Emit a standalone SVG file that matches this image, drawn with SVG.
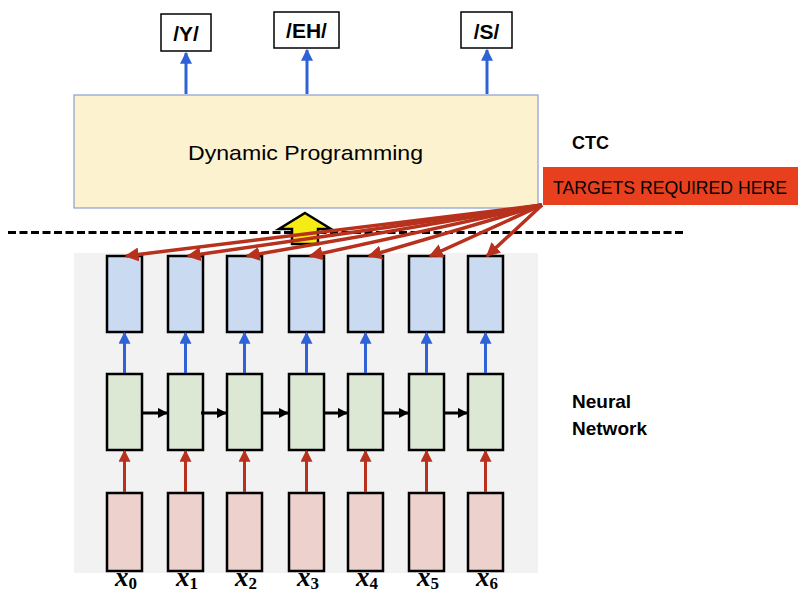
<svg xmlns="http://www.w3.org/2000/svg" width="798" height="595" viewBox="0 0 798 595">
  <style>
    .lbl { font-family: "Liberation Sans", "Open Sans", sans-serif; fill: #000; }
    .bold { font-weight: bold; }
    .out rect { fill: #fff; stroke: #000; stroke-width: 1.5; }
    .cell { stroke: #000; stroke-width: 2.5; }
    .blue { fill: #c9daf1; }
    .green { fill: #dde8d4; }
    .pink { fill: #edd1cd; }
    .up-blue { stroke: #2f62d6; stroke-width: 3; fill: none; }
    .up-red { stroke: #b7311c; stroke-width: 3; fill: none; }
    .rec { stroke: #000; stroke-width: 3; fill: none; }
    .tgt { stroke: #b7311c; stroke-width: 3.5; fill: none; }
    .xs { font-family: "Liberation Serif", "DejaVu Serif", serif; font-style: italic; font-weight: bold; font-size: 27px; }
    .xs tspan { font-style: normal; font-size: 17px; }
  </style>
  <defs>
    <marker id="hb" viewBox="0 0 10 10" refX="9" refY="5" markerWidth="4" markerHeight="4" orient="auto" markerUnits="strokeWidth">
      <path d="M0,0 L10,5 L0,10 z" fill="#2f62d6"/>
    </marker>
    <marker id="hr" viewBox="0 0 10 10" refX="9" refY="5" markerWidth="4" markerHeight="4" orient="auto" markerUnits="strokeWidth">
      <path d="M0,0 L10,5 L0,10 z" fill="#b7311c"/>
    </marker>
    <marker id="hk" viewBox="0 0 10 10" refX="9" refY="5" markerWidth="3.5" markerHeight="3.5" orient="auto" markerUnits="strokeWidth">
      <path d="M0,0 L10,5 L0,10 z" fill="#000"/>
    </marker>
    <marker id="ht" viewBox="0 0 10 10" refX="9" refY="5" markerWidth="4" markerHeight="4" orient="auto" markerUnits="strokeWidth">
      <path d="M0,0 L10,5 L0,10 z" fill="#b7311c"/>
    </marker>
  </defs>

  <!-- network background panel -->
  <rect x="74" y="253" width="464" height="320" fill="#f2f2f2"/>

  <!-- dynamic programming block -->
  <g id="dp">
    <rect x="74" y="95" width="464" height="113" fill="#fdf2d0" stroke="#8a9fcf" stroke-width="1.2"/>
    <text class="lbl" x="188" y="160" font-size="21" textLength="235" lengthAdjust="spacingAndGlyphs">Dynamic Programming</text>
  </g>

  <!-- output phonemes -->
  <g id="out-y" class="out">
    <rect x="161" y="14" width="50" height="37"/>
    <text class="lbl bold" x="186" y="41" font-size="21" text-anchor="middle">/Y/</text>
  </g>
  <g id="out-eh" class="out">
    <rect x="274" y="12" width="65" height="36"/>
    <text class="lbl bold" x="306.5" y="38" font-size="21" text-anchor="middle">/EH/</text>
  </g>
  <g id="out-s" class="out">
    <rect x="461" y="12" width="51" height="36"/>
    <text class="lbl bold" x="486.5" y="39" font-size="21" text-anchor="middle">/S/</text>
  </g>

  <!-- side labels -->
  <g id="ctc-label">
    <text class="lbl bold" x="572" y="149" font-size="18">CTC</text>
  </g>
  <g id="nn-label">
    <text class="lbl bold" x="572" y="408" font-size="19">Neural</text>
    <text class="lbl bold" x="572" y="435" font-size="19">Network</text>
  </g>

  <!-- separator -->
  <line x1="8" y1="232.5" x2="683" y2="232.5" stroke="#000" stroke-width="3" stroke-dasharray="8,3.5"/>

  <!-- yellow hand-off arrow -->
  <g id="handoff">
    <path d="M305,213 L331,229 L318,229 L318,244 L292,244 L292,229 L279,229 Z" fill="#f6ec15" stroke="#000" stroke-width="2.5" stroke-linejoin="miter"/>
  </g>

  <!-- unrolled network cells -->
  <g id="col0"><rect class="cell blue" x="107" y="256" width="35" height="76"/><rect class="cell green" x="107" y="374" width="35" height="76"/><rect class="cell pink" x="107" y="493" width="35" height="78"/></g>
  <g id="col1"><rect class="cell blue" x="168" y="256" width="35" height="76"/><rect class="cell green" x="168" y="374" width="35" height="76"/><rect class="cell pink" x="168" y="493" width="35" height="78"/></g>
  <g id="col2"><rect class="cell blue" x="227" y="256" width="35" height="76"/><rect class="cell green" x="227" y="374" width="35" height="76"/><rect class="cell pink" x="227" y="493" width="35" height="78"/></g>
  <g id="col3"><rect class="cell blue" x="289" y="256" width="35" height="76"/><rect class="cell green" x="289" y="374" width="35" height="76"/><rect class="cell pink" x="289" y="493" width="35" height="78"/></g>
  <g id="col4"><rect class="cell blue" x="348" y="256" width="35" height="76"/><rect class="cell green" x="348" y="374" width="35" height="76"/><rect class="cell pink" x="348" y="493" width="35" height="78"/></g>
  <g id="col5"><rect class="cell blue" x="409" y="256" width="35" height="76"/><rect class="cell green" x="409" y="374" width="35" height="76"/><rect class="cell pink" x="409" y="493" width="35" height="78"/></g>
  <g id="col6"><rect class="cell blue" x="468" y="256" width="35" height="76"/><rect class="cell green" x="468" y="374" width="35" height="76"/><rect class="cell pink" x="468" y="493" width="35" height="78"/></g>

  <!-- input labels -->
  <g id="inputs" class="xs">
    <text x="115" y="586">x<tspan dy="3">0</tspan></text>
    <text x="176" y="586">x<tspan dy="3">1</tspan></text>
    <text x="235" y="586">x<tspan dy="3">2</tspan></text>
    <text x="297" y="586">x<tspan dy="3">3</tspan></text>
    <text x="356" y="586">x<tspan dy="3">4</tspan></text>
    <text x="417" y="586">x<tspan dy="3">5</tspan></text>
    <text x="476" y="586">x<tspan dy="3">6</tspan></text>
  </g>

  <!-- targets banner -->
  <g id="targets">
    <rect x="543" y="167" width="255" height="38" fill="#e8401f"/>
    <text class="lbl" x="553" y="194" font-size="19" textLength="234" lengthAdjust="spacingAndGlyphs">TARGETS REQUIRED HERE</text>
  </g>

  <g id="connectors">
    <!-- DP to outputs -->
    <line class="up-blue" x1="186" y1="94" x2="186" y2="53" marker-end="url(#hb)"/>
    <line class="up-blue" x1="307" y1="94" x2="307" y2="50" marker-end="url(#hb)"/>
    <line class="up-blue" x1="487" y1="94" x2="487" y2="50" marker-end="url(#hb)"/>

    <!-- hidden to output cells -->
    <line class="up-blue" x1="124.5" y1="373" x2="124.5" y2="333" marker-end="url(#hb)"/>
    <line class="up-blue" x1="185.5" y1="373" x2="185.5" y2="333" marker-end="url(#hb)"/>
    <line class="up-blue" x1="244.5" y1="373" x2="244.5" y2="333" marker-end="url(#hb)"/>
    <line class="up-blue" x1="306.5" y1="373" x2="306.5" y2="333" marker-end="url(#hb)"/>
    <line class="up-blue" x1="365.5" y1="373" x2="365.5" y2="333" marker-end="url(#hb)"/>
    <line class="up-blue" x1="426.5" y1="373" x2="426.5" y2="333" marker-end="url(#hb)"/>
    <line class="up-blue" x1="485.5" y1="373" x2="485.5" y2="333" marker-end="url(#hb)"/>

    <!-- inputs to hidden cells -->
    <line class="up-red" x1="124.5" y1="492" x2="124.5" y2="451" marker-end="url(#hr)"/>
    <line class="up-red" x1="185.5" y1="492" x2="185.5" y2="451" marker-end="url(#hr)"/>
    <line class="up-red" x1="244.5" y1="492" x2="244.5" y2="451" marker-end="url(#hr)"/>
    <line class="up-red" x1="306.5" y1="492" x2="306.5" y2="451" marker-end="url(#hr)"/>
    <line class="up-red" x1="365.5" y1="492" x2="365.5" y2="451" marker-end="url(#hr)"/>
    <line class="up-red" x1="426.5" y1="492" x2="426.5" y2="451" marker-end="url(#hr)"/>
    <line class="up-red" x1="485.5" y1="492" x2="485.5" y2="451" marker-end="url(#hr)"/>

    <!-- recurrence -->
    <line class="rec" x1="142" y1="413" x2="167" y2="413" marker-end="url(#hk)"/>
    <line class="rec" x1="201" y1="413" x2="226" y2="413" marker-end="url(#hk)"/>
    <line class="rec" x1="262" y1="413" x2="288" y2="413" marker-end="url(#hk)"/>
    <line class="rec" x1="324" y1="413" x2="347" y2="413" marker-end="url(#hk)"/>
    <line class="rec" x1="383" y1="413" x2="408" y2="413" marker-end="url(#hk)"/>
    <line class="rec" x1="444" y1="413" x2="467" y2="413" marker-end="url(#hk)"/>

    <!-- targets fan-out -->
    <line class="tgt" x1="542" y1="205" x2="126" y2="256" marker-end="url(#ht)"/>
    <line class="tgt" x1="542" y1="205" x2="188" y2="256" marker-end="url(#ht)"/>
    <line class="tgt" x1="542" y1="205" x2="247" y2="256" marker-end="url(#ht)"/>
    <line class="tgt" x1="542" y1="205" x2="310" y2="256" marker-end="url(#ht)"/>
    <line class="tgt" x1="542" y1="205" x2="369" y2="256" marker-end="url(#ht)"/>
    <line class="tgt" x1="542" y1="205" x2="430" y2="256" marker-end="url(#ht)"/>
    <line class="tgt" x1="542" y1="205" x2="487" y2="256" marker-end="url(#ht)"/>
  </g>
</svg>
